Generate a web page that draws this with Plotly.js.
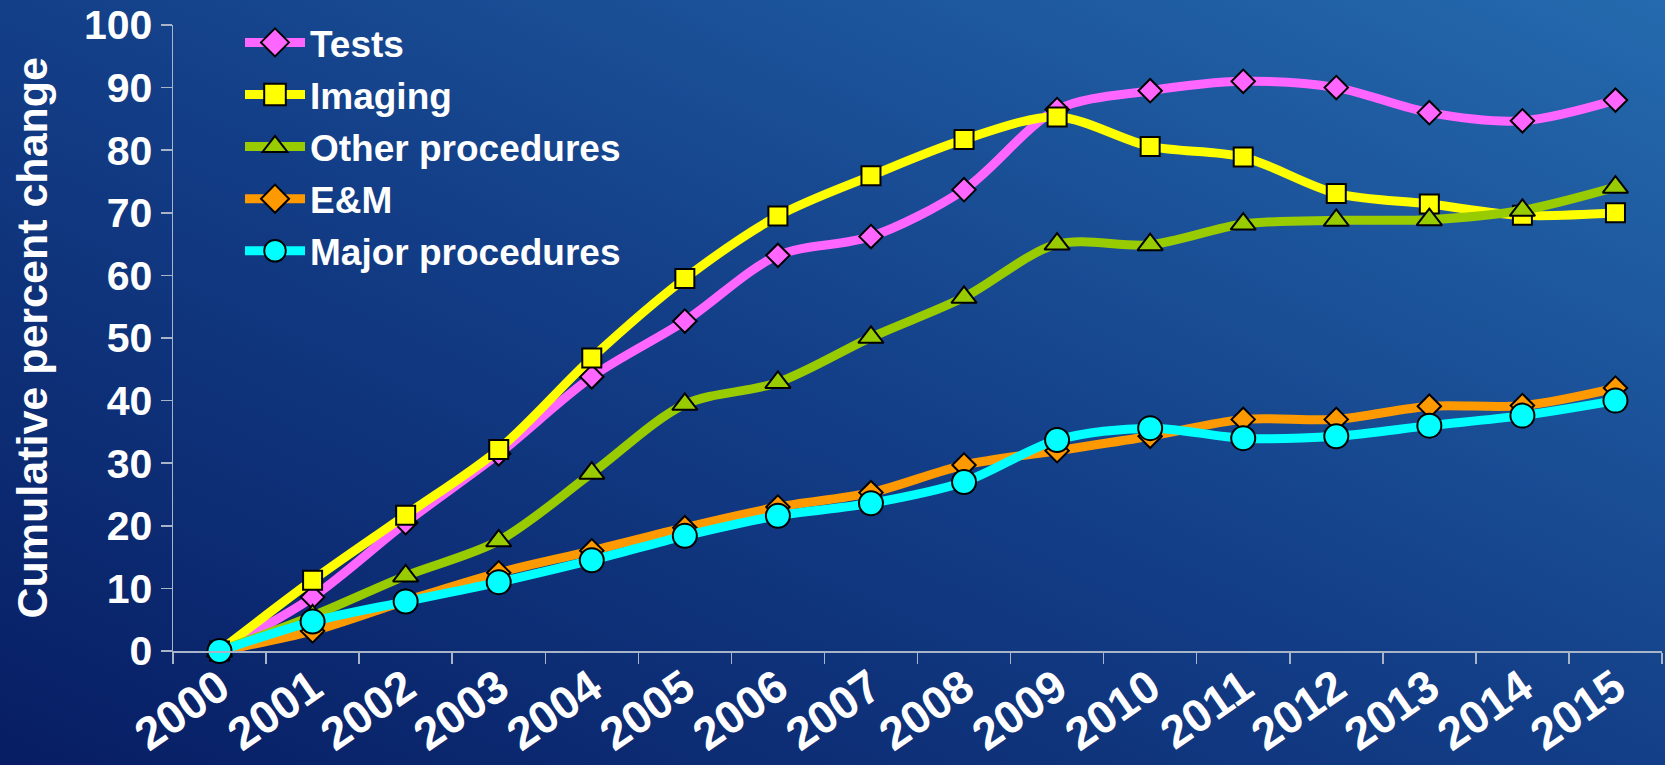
<!DOCTYPE html>
<html>
<head>
<meta charset="utf-8">
<script src="https://cdn.plot.ly/plotly-3.0.1.min.js"></script>
<style>
  html, body { margin: 0; padding: 0; width: 1665px; height: 765px; overflow: hidden; }
  body { background: linear-gradient(to top right, #071d63 0%, #133f88 50%, #256aae 100%); }
  #chart { width: 1665px; height: 765px; }
</style>
</head>
<body>
<div id="chart"></div>
<script>
const years = ["2000","2001","2002","2003","2004","2005","2006","2007","2008","2009","2010","2011","2012","2013","2014","2015"];
const tests = [0, 8.6, 20.5, 31.5, 43.8, 52.7, 63.2, 66.2, 73.7, 86.5, 89.5, 91.0, 90.0, 86.0, 84.7, 88.0];
const imaging = [0, 11.3, 21.7, 32.2, 46.8, 59.5, 69.5, 75.9, 81.7, 85.3, 80.6, 78.9, 73.1, 71.4, 69.6, 70.0];
const otherProcedures = [0, 5.6, 12.0, 17.6, 28.4, 39.4, 42.9, 50.1, 56.5, 65.0, 64.9, 68.2, 68.8, 68.9, 70.4, 74.1];
const em = [0, 3.2, 8.0, 12.5, 16.0, 19.7, 23.0, 25.3, 29.7, 32.0, 34.3, 37.0, 37.0, 39.1, 39.2, 42.0];
const majorProcedures = [0, 4.7, 7.9, 11.0, 14.5, 18.4, 21.6, 23.6, 27.0, 33.7, 35.6, 34.0, 34.3, 36.0, 37.6, 40.0];
const seriesNames = ["Tests", "Imaging", "Other procedures", "E&M", "Major procedures"];
const yTitle = "Cumulative percent change";

const seriesData = [tests, imaging, otherProcedures, em, majorProcedures];
const colors = ["#ff66ff", "#ffff00", "#99cc00", "#ff9900", "#00ffff"];
const symbols = ["diamond", "square", "triangle-up", "diamond", "circle"];
const sizes = [18, 19, 22, 18, 24];

const traces = seriesData.map((vals, i) => ({
  type: "scatter",
  mode: "lines+markers",
  name: seriesNames[i],
  legendgroup: "g" + i,
  x: years,
  y: vals,
  cliponaxis: false,
  line: { color: colors[i], width: 9, shape: "spline", smoothing: 0.9 },
  marker: { symbol: symbols[i], size: sizes[i], color: colors[i], line: { color: "#000000", width: 2 } }
}));

const font = { family: "Liberation Sans, Arial, sans-serif", color: "#ffffff", weight: "bold" };

const layout = {
  width: 1665,
  height: 765,
  paper_bgcolor: "rgba(0,0,0,0)",
  plot_bgcolor: "rgba(0,0,0,0)",
  margin: { l: 173, r: 3, t: 25, b: 114 },
  showlegend: true,
  legend: {
    x: 0.045, y: 1.021, xanchor: "left", yanchor: "top",
    bgcolor: "rgba(0,0,0,0)",
    font: Object.assign({}, font, { size: 37 }),
    itemwidth: 60,
    itemsizing: "trace",
    tracegroupgap: 1
  },
  xaxis: {
    type: "category",
    range: [-0.5, 15.5],
    tickson: "boundaries",
    ticks: "outside",
    ticklen: 11,
    tickcolor: "#a8b4c8",
    tickwidth: 1.5,
    showline: true,
    linecolor: "#a8b4c8",
    linewidth: 1.5,
    showgrid: false,
    zeroline: false,
    tickangle: -35,
    ticklabelstandoff: -10,
    tickfont: Object.assign({}, font, { size: 46 }),
    fixedrange: true
  },
  yaxis: {
    range: [0, 100],
    dtick: 10,
    tick0: 0,
    ticks: "outside",
    ticklen: 11,
    tickcolor: "#a8b4c8",
    tickwidth: 1.5,
    showline: true,
    linecolor: "#a8b4c8",
    linewidth: 1.5,
    showgrid: false,
    zeroline: false,
    tickfont: Object.assign({}, font, { size: 41 }),
    fixedrange: true
  },
  annotations: [{
    text: yTitle,
    xref: "paper", yref: "paper",
    x: -0.095, y: 0.5,
    xanchor: "center", yanchor: "middle",
    textangle: -90,
    showarrow: false,
    font: Object.assign({}, font, { size: 43 })
  }]
};

Plotly.newPlot("chart", traces, layout, { staticPlot: true, displayModeBar: false }).then(function (gd) {
  // enlarge legend marker symbols to match the plot markers
  const k = 1.35;
  gd.querySelectorAll(".legend .legendpoints path.scatterpts").forEach(function (p) {
    const t = p.getAttribute("transform") || "";
    p.setAttribute("transform", t + " scale(" + k + ")");
    p.style.strokeWidth = (2 / k) + "px";
  });
});
</script>
</body>
</html>
